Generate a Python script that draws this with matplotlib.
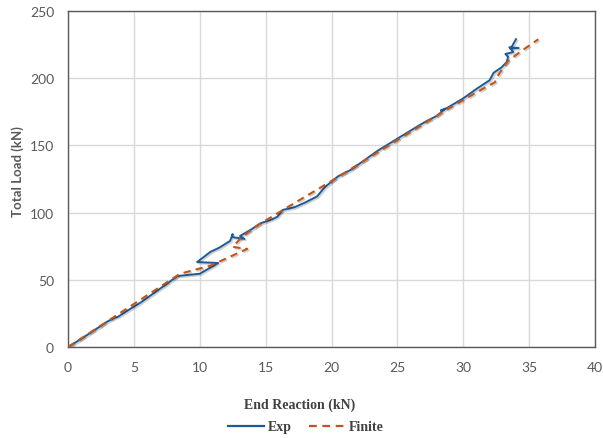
import matplotlib.pyplot as plt
import matplotlib.patheffects as pe
from matplotlib.lines import Line2D

# Experimental curve: end reaction (kN) vs total load (kN)
exp_reaction = [0, 1, 2, 3, 3.6, 3.8, 4.5, 5.5, 6.5, 7.5, 8.3, 9, 10, 11.4, 9.8,
                10.8, 11.5, 12.3, 12.5, 12.45, 13.4, 13.06, 14, 14.6, 15.5, 15.9,
                16.3, 17.2, 18, 18.9, 19.5, 20.5, 21.5, 22.5, 23.5, 24.5, 25.5,
                26.5, 27.2, 28, 28.6, 28.3, 28.8, 30, 31, 32, 32.3, 32.9, 33.3,
                33.4, 33.2, 33.8, 33.5, 34.2, 33.6, 34]
exp_load = [0, 6, 12.5, 19, 22, 22.5, 27, 33, 40, 47, 52.8, 53.5, 54.5, 62.5, 63.2,
            70.7, 74, 78.9, 84, 81.8, 80.4, 82.6, 88, 92, 95, 97,
            102, 104, 107.5, 112, 119, 127, 132, 139, 146, 152, 158,
            164, 168, 172, 177, 176, 178, 185, 192, 198.5, 204, 208, 212,
            216, 218, 219.5, 223, 222.5, 222, 229]

# Finite element curve
fe_reaction = [0, 5, 8.5, 10.8, 13.6, 12.5, 13.2, 14.3, 17, 20, 25, 28.8, 31.1,
               32.4, 32.6, 33.4, 34.3, 35.7]
fe_load = [0, 32, 54.5, 60.5, 73, 74.5, 81.8, 90, 106, 123.5, 154, 177, 190,
           197, 201.6, 212.8, 219.5, 229]

blue = '#1F5A96'
orange = '#C0561A'
shadow = [pe.SimpleLineShadow(offset=(1.0, -1.0), alpha=0.18, rho=0.5), pe.Normal()]

fig = plt.figure(figsize=(6.03, 4.39), dpi=100)
ax = fig.add_axes([68/603, 1 - 348/439, (595-68)/603, (348-12)/439])

ax.plot(exp_reaction, exp_load, color=blue, lw=1.4, path_effects=shadow, zorder=3)
ax.plot(fe_reaction, fe_load, color=orange, lw=1.5, dashes=(3.5, 2.5),
        path_effects=shadow, zorder=4)

ax.set_xlim(0, 40)
ax.set_ylim(0, 250)
ax.set_xticks(range(0, 41, 5))
ax.set_yticks(range(0, 251, 50))
ax.grid(True, color='#D9D9D9', lw=1)
ax.set_axisbelow(True)
for s in ax.spines.values():
    s.set_color('#595959')
    s.set_linewidth(1)
ax.tick_params(length=0, labelsize=10, labelcolor='#595959', pad=10)
for lbl in ax.get_xticklabels() + ax.get_yticklabels():
    lbl.set_family('Lato')

fig.text(18/603, 1 - 172/439, 'Total Load (kN)', rotation=90, ha='center', va='center',
         fontsize=9.5, fontweight='bold', color='#595959', family='Lato')
fig.text(300/603, 1 - 405/439, 'End Reaction (kN)', ha='center', va='center',
         fontsize=10, fontweight='bold', color='#404040', family='Liberation Serif')

handles = [Line2D([], [], color=blue, lw=1.6),
           Line2D([], [], color=orange, lw=1.6, dashes=(3.5, 2.5))]
leg = fig.legend(handles, ['Exp', 'Finite'], loc='center', bbox_to_anchor=(306/603, 1 - 428/439),
                 ncol=2, frameon=False, handlelength=2.6, handletextpad=0.3, columnspacing=1.2,
                 prop={'family': 'Liberation Serif', 'weight': 'bold', 'size': 10})
for t in leg.get_texts():
    t.set_color('#404040')

fig.savefig('out.png', dpi=100)
